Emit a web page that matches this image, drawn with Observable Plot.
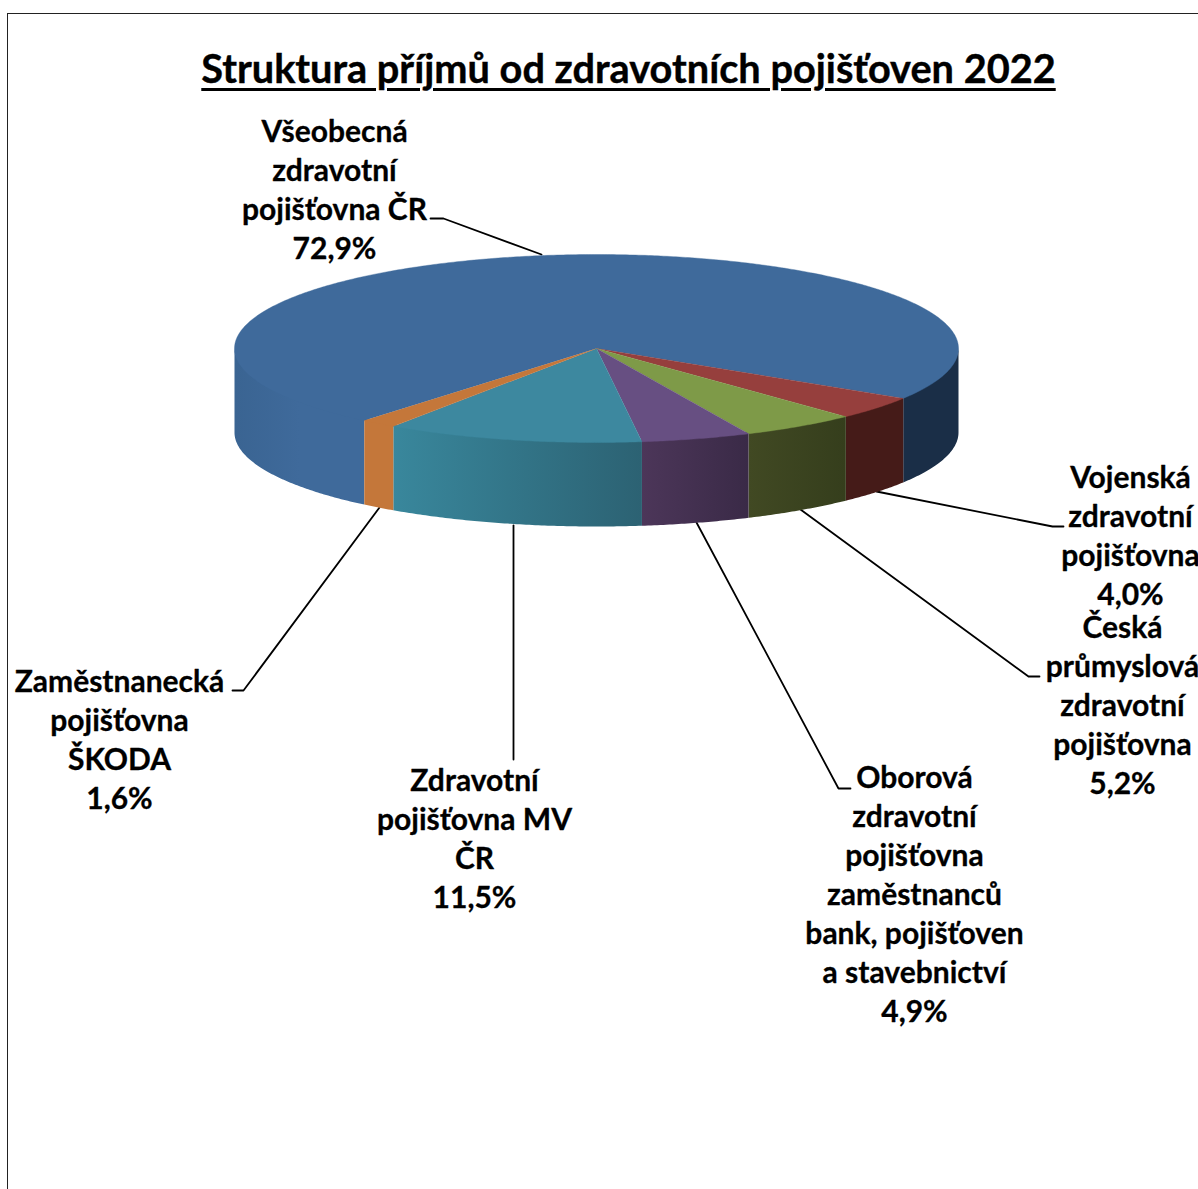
<!DOCTYPE html>
<html lang="cs">
<head>
<meta charset="utf-8">
<style>
html,body{margin:0;padding:0;background:#fff;overflow:hidden}
#wrap{position:relative;width:1198px;height:1189px}
#title{position:absolute;left:0;top:42px;width:1257px;text-align:center;font:700 39.7px/52px Lato,sans-serif;color:#000;-webkit-text-stroke:0.4px #000;text-decoration:underline;text-decoration-thickness:3px;text-underline-offset:5px;white-space:nowrap}
svg{display:block}
</style>
<script src="https://cdn.jsdelivr.net/npm/d3@7"></script>
<script src="https://cdn.jsdelivr.net/npm/@observablehq/plot@0.6"></script>
</head>
<body>
<div id="wrap"><div id="title"></div></div>
<script>
const chartTitle = "Struktura příjmů od zdravotních pojišťoven 2022";
const names = [
  "Všeobecná\nzdravotní\npojišťovna ČR",
  "Vojenská\nzdravotní\npojišťovna",
  "Česká\nprůmyslová\nzdravotní\npojišťovna",
  "Oborová\nzdravotní\npojišťovna\nzaměstnanců\nbank, pojišťoven\na stavebnictví",
  "Zdravotní\npojišťovna MV\nČR",
  "Zaměstnanecká\npojišťovna\nŠKODA"
];
const shares = [72.9, 4.0, 5.2, 4.9, 11.5, 1.6];

// Styles
const topColors = ["#3f6a9b", "#963f3d", "#7e9a48", "#674f82", "#3d889f", "#c4773a"];
const sideStops = [
  ["#1a2e47", "#1a2e47"],
  ["#451b18", "#451b18"],
  ["#414923", "#353e1c"],
  ["#4c3659", "#3a2a47"],
  ["#39879c", "#2c6273"],
  ["#c4773a", "#c4773a"]
];
const blueLeftStops = ["#3a6492", "#3f6a9b", "#3f6a9b"];

// Layout (pixel space of the picture)
const cx = 596, cy = 348, rx = 362, ry = 94, depth = 84;
const startDeg = 129.9;
const labelPos = [[334,188],[1130,534],[1122,703.5],[914,892.5],[474,837],[119,738]];
const leaders = [
  [[541,254],[443,218],[430,218]],
  [[876,491],[1052,526],[1063,526]],
  [[800,509],[1028,676],[1039,676]],
  [[696,522],[838,788],[850,788]],
  [[513,525],[513,759]],
  [[379,507],[243,690],[232,690]]
];

const total = d3.sum(shares);
const rad = d => d * Math.PI / 180;
const rim = (deg, dy = 0) => ({x: cx + rx * Math.cos(rad(deg)), y: cy + ry * Math.sin(rad(deg)) + dy});
const arcPts = (a, b, dy = 0) => {
  const n = Math.max(2, Math.ceil(Math.abs(b - a) / 0.5));
  return d3.range(n + 1).map(i => rim(a + (b - a) * i / n, dy));
};
// the upper edge runs a little under the top face so no seam shows along the rim
const sidePoly = (a, b) => [...arcPts(a, b, -2), ...arcPts(b, a, depth)];

let acc = startDeg;
const slices = shares.map((v, i) => {
  const a0 = acc, a1 = acc + v / total * 360;
  acc = a1;
  return {i, v, a0, a1};
});

const sides = [];
slices.forEach(({i, a0, a1}) => {
  if (i === 0) {
    sides.push({poly: sidePoly(a0, 180), id: "gBlueLeft"});
    sides.push({poly: sidePoly(360, a1), fill: sideStops[0][0]});
  } else {
    sides.push({poly: sidePoly(a0, a1), id: "g" + i});
  }
});

const defsMark = () => {
  const defs = d3.create("svg:defs");
  const add = (id, stops) => {
    const g = defs.append("linearGradient").attr("id", id).attr("x1", 0).attr("x2", 1).attr("y1", 0).attr("y2", 0);
    stops.forEach((c, k) => g.append("stop").attr("offset", k / (stops.length - 1)).attr("stop-color", c));
  };
  sideStops.forEach((s, i) => add("g" + i, s));
  add("gBlueLeft", blueLeftStops);
  return defs.node();
};

const polyMark = (pts, fill) => Plot.line(pts, {x: "x", y: "y", fill, stroke: fill, strokeWidth: 0.4, curve: "linear"});

const marks = [
  defsMark,
  Plot.ruleX([7], {y1: 13, y2: 1189, stroke: "#222", strokeWidth: 1}),
  Plot.ruleY([13], {x1: 7, x2: 1198, stroke: "#222", strokeWidth: 1}),
  ...leaders.map(l => Plot.line(l.map(([x, y]) => ({x, y})), {x: "x", y: "y", stroke: "#000", strokeWidth: 1.8, curve: "linear"})),
  ...sides.map(s => Plot.line(s.poly, {x: "x", y: "y", fill: s.fill || `url(#${s.id})`, stroke: "none", curve: "linear"})),
  ...slices.map(({i, a0, a1}) => polyMark([{x: cx, y: cy}, ...arcPts(a0, a1)], topColors[i])),
  Plot.text(slices, {
    x: d => labelPos[d.i][0],
    y: d => labelPos[d.i][1],
    text: d => `${names[d.i]}\n${d.v.toFixed(1).replace(".", ",")}%`,
    fontSize: 30,
    fontWeight: 700,
    lineHeight: 39 / 30,
    fill: "#000",
    stroke: "#000",
    strokeWidth: 0.3,
    textAnchor: "middle"
  })
];

document.getElementById("title").textContent = chartTitle;
const chart = Plot.plot({
  width: 1198, height: 1189,
  margin: 0,
  x: {domain: [0, 1198], range: [0, 1198], axis: null},
  y: {domain: [0, 1189], range: [0, 1189], axis: null},
  style: {fontFamily: "Lato, sans-serif", background: "transparent", overflow: "visible"},
  marks
});
document.getElementById("wrap").prepend(chart);
</script>
</body>
</html>
